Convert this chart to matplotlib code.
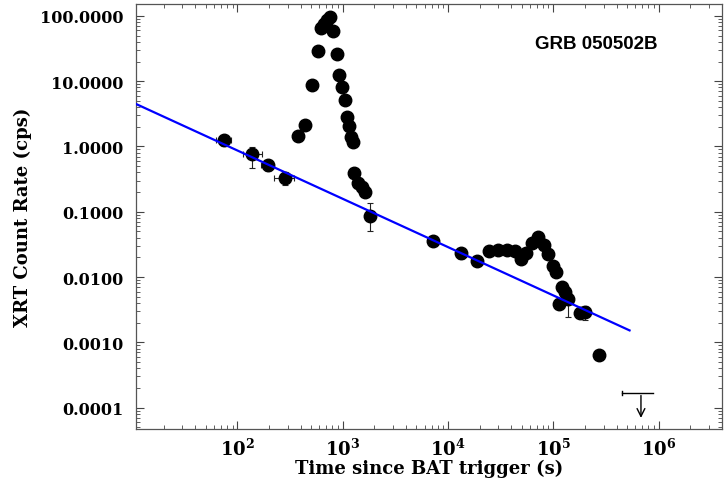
import matplotlib
matplotlib.use('Agg')
import matplotlib.pyplot as plt
import numpy as np
from matplotlib.ticker import FixedLocator, FixedFormatter, LogLocator, NullFormatter

# light curve points (time in s, rate in cps)
t = [75, 137, 194, 283, 374, 438, 508, 580, 622, 664, 705, 757, 815, 877, 929,
     985, 1051, 1106, 1148, 1207, 1261, 1280, 1406, 1514, 1629, 1815,
     7260, 13200, 19000, 24700, 30000, 36100, 43200, 49000, 55000, 62400,
     72100, 81700, 89800, 98700, 106000, 114000, 120000, 129000, 137000,
     179000, 200000, 272000]
rate = [1.26, 0.77, 0.52, 0.33, 1.47, 2.16, 8.6, 28.8, 65, 75, 85, 95, 58, 26, 12.6,
        8.0, 5.2, 2.87, 2.09, 1.39, 1.16, 0.39, 0.274, 0.243, 0.20, 0.086,
        0.035, 0.0232, 0.0179, 0.0249, 0.0255, 0.0255, 0.0249, 0.019, 0.0235, 0.0334,
        0.0408, 0.0304, 0.0226, 0.015, 0.0119, 0.0039, 0.007, 0.006, 0.0046,
        0.0028, 0.0029, 0.00063]
# rough error bars on the sparse points
err_t = [75, 137, 194, 283, 1280, 1815, 13200, 137000, 200000]
err_r = [1.26, 0.77, 0.52, 0.33, 0.39, 0.086, 0.0232, 0.0046, 0.0029]
err_lo = [0.25, 0.30, 0.10, 0.07, 0.06, 0.036, 0.004, 0.0022, 0.0007]
err_hi = [0.25, 0.20, 0.10, 0.07, 0.06, 0.049, 0.004, 0.0015, 0.0007]
err_xlo = [12, 25, 25, 60, 0, 0, 0, 0, 0]
err_xhi = [12, 35, 25, 60, 0, 0, 0, 0, 0]

# upper limit
ul_t = 680000
ul_r = 1.69e-4
ul_tlo, ul_thi = 450000, 890000

# power-law fit
fit_norm = 26.2
fit_index = 0.74
fit_t = [10.9, 5.3e5]

plt.rcParams['mathtext.fontset'] = 'dejavuserif'

fig = plt.figure(figsize=(7.26, 4.89), dpi=100)
ax = fig.add_axes([136/726, 1 - 430/489, 586/726, 425/489])

ax.errorbar(err_t, err_r, yerr=[err_lo, err_hi], xerr=[err_xlo, err_xhi],
            fmt='none', ecolor='#222222', elinewidth=0.8, capsize=2.5, capthick=0.8)
ax.plot(t, rate, 'o', color='black', ms=9, zorder=3)

ft = np.logspace(np.log10(fit_t[0]), np.log10(fit_t[1]), 50)
ax.plot(ft, fit_norm * ft ** (-fit_index), color='#0000ff', lw=1.6, zorder=4)

# upper limit marker
ax.plot([ul_tlo, ul_thi], [ul_r, ul_r], color='black', lw=1)
ax.plot([ul_tlo, ul_tlo], [ul_r * 0.93, ul_r * 1.07], color='black', lw=1)
ax.annotate('', xy=(ul_t, 6.3e-5), xytext=(ul_t, ul_r),
            arrowprops=dict(arrowstyle='->', color='black', lw=1, mutation_scale=14))

ax.set_xscale('log')
ax.set_yscale('log')
ax.set_xlim(10.9, 4.0e6)
ax.set_ylim(4.7e-5, 152)

ax.xaxis.set_major_locator(FixedLocator([1e2, 1e3, 1e4, 1e5, 1e6]))
ax.xaxis.set_major_formatter(FixedFormatter([r'$\mathbf{10^{%d}}$' % k for k in range(2, 7)]))
ax.xaxis.set_minor_locator(LogLocator(base=10, subs=np.arange(2, 10), numticks=20))
ax.xaxis.set_minor_formatter(NullFormatter())
yt = [1e-4, 1e-3, 1e-2, 1e-1, 1, 10, 100]
ax.yaxis.set_major_locator(FixedLocator(yt))
ax.yaxis.set_major_formatter(FixedFormatter(['%.4f' % v for v in yt]))
ax.yaxis.set_minor_locator(LogLocator(base=10, subs=np.arange(2, 10), numticks=20))
ax.yaxis.set_minor_formatter(NullFormatter())

ax.tick_params(which='both', direction='in', top=True, right=True, color='#444444')
ax.tick_params(which='major', length=6, width=0.8)
ax.tick_params(which='minor', length=3, width=0.6)
ax.tick_params(axis='y', pad=9)
for lab in ax.get_yticklabels():
    lab.set_fontfamily('DejaVu Serif')
    lab.set_fontweight('bold')
    lab.set_fontsize(11.5)
ax.tick_params(axis='x', labelsize=13, pad=6)
for s in ax.spines.values():
    s.set_color('#555555')
    s.set_linewidth(0.9)

ax.set_xlabel('Time since BAT trigger (s)', family='DejaVu Serif', weight='bold',
              fontsize=13, labelpad=0)
ax.set_ylabel('XRT Count Rate (cps)', family='DejaVu Serif', weight='bold',
              fontsize=13, labelpad=6)
ax.text(0.785, 0.906, 'GRB 050502B', transform=ax.transAxes, ha='center', va='center',
        family='Liberation Sans', weight='bold', fontsize=13.5)

fig.savefig('out.png', dpi=100)
